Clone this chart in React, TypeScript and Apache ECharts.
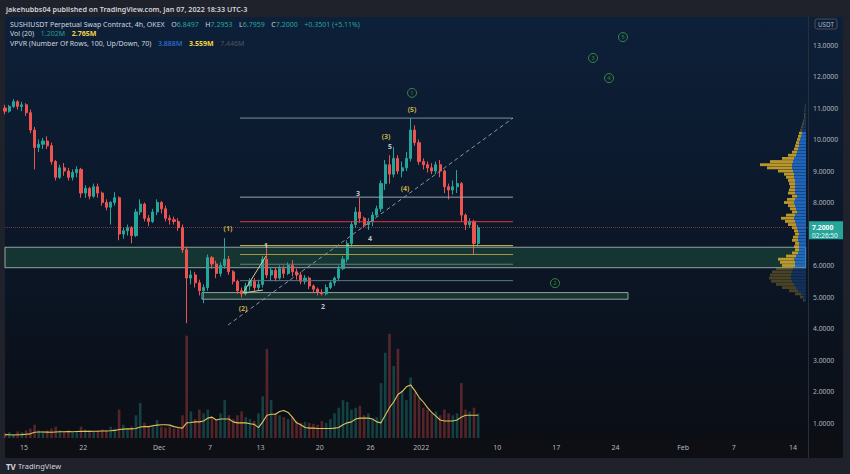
import React, { useEffect, useRef } from 'react';
import * as echarts from 'echarts';

const FONT = "'Noto Sans', 'Open Sans', sans-serif";

// Time is measured in days, day 0 = Nov 1, 2021. Candles are 12h.
const candleStartDay = 11.75;
const candleStepDays = 0.5;

// [open, close, low, high]
const ohlc: number[][] = [
  [11.0, 10.9, 10.8, 11.1], [10.9, 11.05, 10.85, 11.1], [11.05, 11.2, 11.0, 11.28], [11.2, 11.05, 10.95, 11.25],
  [11.05, 11.1, 10.9, 11.2], [11.1, 10.85, 10.75, 11.15], [10.85, 10.3, 10.2, 10.95], [10.3, 9.75, 9.05, 10.4],
  [9.75, 9.85, 9.6, 10.0], [9.85, 9.95, 9.7, 10.05], [9.95, 9.8, 9.7, 10.1], [9.8, 9.3, 9.2, 9.9],
  [9.3, 8.8, 8.7, 9.35], [8.8, 9.1, 8.75, 9.2], [9.1, 9.0, 8.85, 9.25], [9.0, 8.8, 8.7, 9.1],
  [8.8, 8.95, 8.7, 9.05], [8.95, 9.05, 8.8, 9.15], [9.05, 8.3, 8.15, 9.1], [8.3, 8.45, 8.15, 8.55],
  [8.45, 8.2, 8.1, 8.5], [8.2, 8.5, 8.15, 8.6], [8.5, 8.3, 8.15, 8.6], [8.3, 8.0, 7.9, 8.35],
  [8.0, 7.85, 7.75, 8.1], [7.85, 8.0, 7.3, 8.05], [8.0, 8.15, 7.9, 8.33], [8.15, 7.0, 6.8, 8.2],
  [7.0, 7.1, 6.85, 7.2], [7.1, 7.2, 6.95, 7.3], [7.2, 6.95, 6.7, 7.25], [6.95, 7.7, 6.9, 7.8],
  [7.7, 7.95, 7.6, 8.1], [7.95, 7.5, 7.4, 8.0], [7.5, 7.4, 7.25, 7.6], [7.4, 7.7, 7.35, 7.8],
  [7.7, 8.0, 7.6, 8.1], [8.0, 7.8, 7.65, 8.05], [7.8, 7.5, 7.4, 7.9], [7.5, 7.45, 7.3, 7.6],
  [7.45, 7.4, 7.3, 7.55], [7.4, 7.2, 7.1, 7.5], [7.2, 6.5, 6.4, 7.3], [6.5, 5.6, 4.17, 6.6],
  [5.6, 5.7, 5.4, 5.85], [5.7, 5.45, 5.3, 5.8], [5.45, 5.2, 5.05, 5.55], [5.2, 5.3, 4.8, 5.4],
  [5.3, 6.25, 5.2, 6.35], [6.25, 6.05, 5.9, 6.3], [6.05, 5.75, 5.6, 6.15], [5.75, 6.0, 5.65, 6.1],
  [6.0, 6.2, 5.9, 6.87], [6.2, 5.8, 5.7, 6.3], [5.8, 5.5, 5.4, 5.85], [5.5, 5.2, 5.1, 5.55],
  [5.2, 5.1, 4.98, 5.3], [5.1, 5.35, 5.05, 5.45], [5.35, 5.5, 5.2, 5.6], [5.5, 5.3, 5.2, 5.6],
  [5.3, 5.4, 5.2, 5.55], [5.4, 6.2, 5.3, 6.3], [6.2, 5.7, 5.6, 6.55], [5.7, 5.85, 5.5, 5.95],
  [5.85, 5.6, 5.5, 5.95], [5.6, 5.9, 5.55, 6.0], [5.9, 5.75, 5.6, 6.0], [5.75, 6.0, 5.7, 6.1],
  [6.0, 5.8, 5.65, 6.17], [5.8, 5.7, 5.55, 5.9], [5.7, 5.5, 5.4, 5.8], [5.5, 5.6, 5.4, 5.7],
  [5.6, 5.35, 5.25, 5.65], [5.35, 5.25, 5.15, 5.4], [5.25, 5.15, 5.05, 5.3], [5.15, 5.1, 5.05, 5.25],
  [5.1, 5.3, 5.05, 5.4], [5.3, 5.45, 5.25, 5.5], [5.45, 5.6, 5.35, 5.65], [5.6, 5.9, 5.5, 6.0],
  [5.9, 6.2, 5.85, 6.3], [6.2, 6.7, 6.1, 6.8], [6.7, 7.3, 6.6, 7.4], [7.3, 7.7, 7.2, 7.85],
  [7.7, 7.5, 7.35, 8.14], [7.5, 7.3, 7.2, 7.55], [7.3, 7.4, 7.13, 7.5], [7.4, 7.6, 7.25, 7.7],
  [7.6, 7.8, 7.55, 7.9], [7.8, 8.6, 7.7, 8.7], [8.6, 9.2, 8.4, 9.35], [9.2, 8.9, 8.6, 9.5],
  [8.9, 9.4, 8.8, 9.76], [9.4, 9.0, 8.9, 9.5], [9.0, 9.1, 8.8, 9.3], [9.1, 9.4, 9.0, 9.6],
  [9.4, 10.3, 9.3, 10.68], [10.3, 9.9, 9.8, 10.45], [9.9, 9.3, 9.2, 10.0], [9.3, 9.2, 9.05, 9.4],
  [9.2, 9.1, 8.95, 9.3], [9.1, 9.0, 8.9, 9.25], [9.0, 9.2, 8.9, 9.3], [9.2, 9.0, 8.8, 9.35],
  [9.0, 8.5, 8.3, 9.05], [8.5, 8.4, 8.1, 8.6], [8.4, 8.5, 8.25, 8.7], [8.5, 8.6, 8.3, 9.03],
  [8.6, 7.6, 7.4, 8.65], [7.6, 7.3, 7.13, 7.65], [7.3, 7.4, 7.2, 7.5], [7.4, 6.7, 6.33, 7.45],
  [6.7, 7.2, 6.6, 7.29],
];

// volume (M)
const volumes = [
  0.25, 0.3, 0.2, 0.35, 0.3, 0.4, 0.5, 0.7, 0.4, 0.35, 0.4, 0.5,
  0.6, 0.4, 0.35, 0.4, 0.3, 0.35, 0.6, 0.45, 0.4, 0.35, 0.4, 0.45,
  0.4, 0.6, 0.5, 1.5, 0.7, 0.5, 0.6, 1.2, 1.85, 0.8, 0.6, 0.7,
  0.95, 0.6, 0.55, 0.6, 0.5, 0.6, 1.2, 5.4, 1.4, 1.0, 1.5, 1.3,
  1.5, 1.1, 1.0, 1.3, 2.0, 1.2, 1.0, 1.2, 1.4, 1.1, 1.0, 0.9,
  1.3, 2.2, 4.7, 2.0, 1.3, 1.2, 1.1, 1.0, 1.1, 0.9, 0.8, 0.85,
  0.8, 0.75, 0.7, 0.9, 0.8, 1.0, 1.3, 1.6, 2.0, 1.9, 1.5, 1.6,
  1.7, 1.2, 1.3, 1.0, 1.1, 2.9, 4.5, 5.5, 3.8, 4.7, 2.5, 2.0,
  3.2, 2.4, 2.1, 1.6, 1.5, 1.3, 1.4, 1.2, 1.5, 1.3, 1.2, 1.3,
  2.9, 1.5, 1.4, 1.6, 1.3,
];

// Vol MA(20)
const volumeMA = [
  0.18, 0.17, 0.16, 0.17, 0.18, 0.2, 0.22, 0.3, 0.32, 0.32,
  0.31, 0.3, 0.32, 0.33, 0.33, 0.34, 0.33, 0.34, 0.35, 0.36,
  0.35, 0.36, 0.36, 0.37, 0.37, 0.38, 0.4, 0.45, 0.47, 0.48,
  0.48, 0.5, 0.58, 0.6, 0.6, 0.65, 0.68, 0.7, 0.7, 0.68,
  0.6, 0.55, 0.52, 0.8, 0.82, 0.85, 0.85, 0.9, 1.05, 1.1,
  0.95, 1.0, 1.0, 1.0, 0.85, 0.8, 0.8, 0.8, 0.75, 0.72,
  0.55, 0.85, 1.2, 1.25, 1.25, 1.4, 1.45, 1.35, 1.1, 0.8,
  0.7, 0.55, 0.52, 0.52, 0.5, 0.5, 0.5, 0.5, 0.52, 0.55,
  0.7, 0.8, 0.85, 1.0, 1.05, 1.05, 1.05, 1.0, 0.85, 0.8,
  1.2, 1.6, 1.9, 2.3, 2.45, 2.7, 2.8, 2.5, 2.15, 1.9,
  1.6, 1.35, 1.15, 0.95, 0.9, 0.9, 0.9, 0.95, 1.1, 1.2,
  1.2, 1.2, 1.2,
];

const tickDays = [14, 21, 30, 36, 42, 49, 55, 61, 70, 77, 84, 92, 98, 105];
const tickLabels = ['15', '22', 'Dec', '7', '13', '20', '26', '2022', '10', '17', '24', 'Feb', '7', '14'];
// 7.0000 is covered by the last-price tag in the reference
const priceTicks = [1, 2, 3, 4, 5, 6, 8, 9, 10, 11, 12, 13];

// Volume profile (VPVR) rows
const profileRowPrices = [
  4.9, 5.0, 5.1, 5.2, 5.3, 5.4, 5.5, 5.6, 5.7, 5.8,
  5.9, 6.0, 6.1, 6.2, 6.3, 6.4, 6.5, 6.6, 6.7, 6.8,
  6.9, 7.0, 7.1, 7.2, 7.3, 7.4, 7.5, 7.6, 7.7, 7.8,
  7.9, 8.0, 8.1, 8.2, 8.3, 8.4, 8.5, 8.6, 8.7, 8.8,
  8.9, 9.0, 9.1, 9.2, 9.3, 9.4, 9.5, 9.6, 9.7, 9.8,
  9.9, 10.0, 10.1, 10.2, 10.3, 10.4, 10.5, 10.6, 10.7, 10.8,
  10.9, 11.0, 11.1,
];
const profileUp = [
  1.5, 3, 5, 8, 10, 12, 14, 15, 15, 14,
  13, 11, 11, 12, 10, 8, 7, 7, 7, 8,
  8, 7, 8, 9, 10, 11, 12, 11, 9, 10,
  11, 12, 11, 9, 11, 11, 11, 11, 11, 12,
  12, 13, 14, 14, 13, 12, 10, 9, 8, 7,
  7, 6, 5, 4, 4, 3, 2, 2, 1, 1,
  1, 1, 0.5,
];
const profileDown = [
  1.5, 3, 6, 9, 14, 18, 21, 22, 21, 20,
  17, 13, 15, 16, 10, 6, 4, 5, 4, 6,
  5, 4, 4, 5, 8, 10, 13, 9, 5, 6,
  7, 10, 8, 5, 7, 6, 5, 6, 7, 8,
  10, 15, 25, 32, 23, 12, 8, 5, 4, 4,
  3, 3, 3, 3, 2, 2, 2, 1, 1, 1,
  0.5, 0.5, 0.5,
];
const profileHalfRow = 0.045;
const valueAreaLow = 5.95;
const valueAreaHigh = 10.25;

// Drawings
const fibLevels = [10.68, 8.17, 7.39, 6.63, 6.35, 6.04, 5.52];
const fibColors = ['#7d8da1', '#9ba4ae', '#e0383b', '#d4c94e', '#a89a42', '#6b7b88', '#5b768b'];
const fibDays = [39.56, 71.87];
const zonePrices = [6.58, 5.93];
const zoneDays = [11.75, 106.5];
const boxPrices = [5.14, 4.93];
const boxDays = [35.06, 85.48];
const trendLine = [[38.14, 4.11], [71.87, 10.68]];
const waveOneLines = [
  [[39.92, 5.13], [42.64, 6.3]],
  [[39.92, 5.13], [42.28, 5.22]],
];
const lastClose = 7.2;

const yellowLabels = [
  { name: '(1)', value: [38.14, 7.19] },
  { name: '(2)', value: [39.92, 4.65] },
  { name: '(3)', value: [56.84, 10.11] },
  { name: '(4)', value: [59.09, 8.46] },
  { name: '(5)', value: [59.92, 10.94] },
];
const whiteLabels = [
  { name: '1', value: [42.64, 6.62] },
  { name: '2', value: [49.38, 4.71] },
  { name: '3', value: [53.52, 8.27] },
  { name: '4', value: [54.95, 6.87] },
  { name: '5', value: [57.31, 9.79] },
];
const circledLabels = [
  { name: '1', value: [59.92, 11.48] },
  { name: '2', value: [76.84, 5.44] },
  { name: '3', value: [81.34, 12.59] },
  { name: '4', value: [83.23, 11.95] },
  { name: '5', value: [84.88, 13.25] },
];

const X_MIN = 11.75;
const X_MAX = 106.78;
const Y_MIN = 0.524;
const Y_MAX = 13.889;

const UP = '#26a69a';
const DOWN = '#ef5350';

export default function App() {
  const ref = useRef<HTMLDivElement>(null);

  useEffect(() => {
    if (!ref.current) return;
    const chart = echarts.init(ref.current, null, { renderer: 'svg' });

    const candleData = ohlc.map((r, i) => [candleStartDay + i * candleStepDays, r[0], r[1], r[2], r[3]]);
    const volData = volumes.map((v, i) => ({
      value: [candleStartDay + i * candleStepDays, v],
      itemStyle: { color: ohlc[i][1] >= ohlc[i][0] ? 'rgba(38,166,154,0.33)' : 'rgba(239,83,80,0.33)' },
    }));
    const maData = volumeMA.map((v, i) => [candleStartDay + i * candleStepDays, v]);
    const profileData = profileRowPrices.map((p, i) => [
      profileUp[i],
      profileDown[i],
      p,
      p < valueAreaLow || p > valueAreaHigh ? 1 : 0,
    ]);

    const drawLine = (pts: number[][], lineStyle: any) => ({
      type: 'line', xAxisIndex: 0, yAxisIndex: 0, data: pts, symbol: 'none', silent: true, z: 4,
      lineStyle, emphasis: { disabled: true }, tooltip: { show: false },
    });

    const fibSeries = fibLevels.map((lv, i) =>
      drawLine([[fibDays[0], lv], [fibDays[1], lv]], { color: fibColors[i], width: 1, type: 'solid' })
    );

    const option: any = {
      animation: false,
      backgroundColor: '#1f222b',
      textStyle: { fontFamily: FONT },
      grid: [
        { left: 5, right: 42, top: 17, bottom: 36, containLabel: false, outerBoundsMode: 'none' },
        { left: 5, right: 42, top: 330, bottom: 36, containLabel: false, outerBoundsMode: 'none' },
        { left: 706, right: 44, top: 17, bottom: 36, containLabel: false, outerBoundsMode: 'none' },
      ],
      xAxis: [
        {
          type: 'value', gridIndex: 0, min: X_MIN, max: X_MAX,
          axisLine: { show: false }, axisTick: { show: false }, splitLine: { show: false },
          axisLabel: {
            customValues: tickDays,
            formatter: (v: number) => {
              const k = tickDays.findIndex((d) => Math.abs(d - v) < 1e-6);
              return k >= 0 ? tickLabels[k] : '';
            },
            color: '#b2b5be', fontSize: 7, margin: 6, fontFamily: FONT,
          },
        },
        { type: 'value', gridIndex: 1, min: X_MIN, max: X_MAX, show: false },
        { type: 'value', gridIndex: 2, min: 0, max: 100, inverse: true, show: false },
      ],
      yAxis: [
        {
          type: 'value', gridIndex: 0, position: 'right', min: Y_MIN, max: Y_MAX,
          splitLine: { show: false }, axisTick: { show: false },
          axisLine: { show: true, lineStyle: { color: '#2a2e39' } },
          axisLabel: {
            customValues: priceTicks,
            formatter: (v: number) => v.toFixed(4),
            color: '#b2b5be', fontSize: 6.8, margin: 5, fontFamily: FONT,
          },
        },
        { type: 'value', gridIndex: 1, min: 0, max: 5.7, show: false },
        { type: 'value', gridIndex: 2, min: Y_MIN, max: Y_MAX, show: false },
      ],
      series: [
        {
          type: 'bar', xAxisIndex: 1, yAxisIndex: 1, barWidth: 2.6, data: volData, z: 1,
        },
        {
          type: 'line', xAxisIndex: 1, yAxisIndex: 1, data: maData, symbol: 'none', z: 3,
          lineStyle: { color: '#dcc35a', width: 1.1 },
        },
        {
          type: 'custom', xAxisIndex: 2, yAxisIndex: 2, data: profileData, z: 2,
          encode: { x: [0, 1], y: 2 },
          renderItem: (params: any, api: any) => {
            const up = api.value(0) as number;
            const dn = api.value(1) as number;
            const price = api.value(2) as number;
            const faded = api.value(3) as number;
            const top = api.coord([0, price + profileHalfRow])[1];
            const bot = api.coord([0, price - profileHalfRow])[1];
            const xR = api.coord([0, price])[0];
            const xU = api.coord([up, price])[0];
            const xD = api.coord([up + dn, price])[0];
            const op = faded ? 0.3 : 0.85;
            return {
              type: 'group',
              children: [
                { type: 'rect', shape: { x: xU, y: top, width: xR - xU, height: bot - top }, style: { fill: '#2573d6', opacity: op } },
                { type: 'rect', shape: { x: xD, y: top, width: xU - xD, height: bot - top }, style: { fill: '#d9ad2c', opacity: op } },
              ],
            };
          },
        },
        {
          type: 'candlestick', xAxisIndex: 0, yAxisIndex: 0, data: candleData, barWidth: 2.6,
          encode: { x: 0, y: [1, 2, 3, 4] },
          itemStyle: { color: UP, color0: DOWN, borderColor: UP, borderColor0: DOWN, borderWidth: 1 },
          markArea: {
            silent: true,
            itemStyle: { color: 'rgba(46,125,80,0.3)', borderColor: 'rgba(190,205,200,0.75)', borderWidth: 1 },
            data: [
              [{ coord: [zoneDays[0], zonePrices[0]] }, { coord: [zoneDays[1], zonePrices[1]] }],
              [{ coord: [boxDays[0], boxPrices[0]] }, { coord: [boxDays[1], boxPrices[1]] }],
            ],
          },
          markLine: {
            silent: true, symbol: ['none', 'none'], label: { show: false },
            emphasis: { disabled: true },
            lineStyle: { color: 'rgba(239,83,80,0.5)', type: 'dotted', width: 1 },
            data: [{ yAxis: lastClose }],
          },
        },
        ...fibSeries,
        drawLine(trendLine, { color: '#8b95a1', type: [4, 3], width: 1 }),
        ...waveOneLines.map((s) => drawLine(s, { color: '#d6cf8e', type: 'solid', width: 1 })),
        {
          type: 'scatter', xAxisIndex: 0, yAxisIndex: 0, data: yellowLabels, symbolSize: 0, z: 10, silent: true,
          label: { show: true, position: 'inside', formatter: '{b}', color: '#f0d34a', fontSize: 7, fontWeight: 'bold', fontFamily: FONT },
        },
        {
          type: 'scatter', xAxisIndex: 0, yAxisIndex: 0, data: whiteLabels, symbolSize: 0, z: 10, silent: true,
          label: { show: true, position: 'inside', formatter: '{b}', color: '#eceff2', fontSize: 7, fontWeight: 'bold', fontFamily: FONT },
        },
        {
          type: 'scatter', xAxisIndex: 0, yAxisIndex: 0, data: circledLabels, symbol: 'circle', symbolSize: 9, z: 10, silent: true,
          itemStyle: { color: 'rgba(0,0,0,0)', borderColor: '#43a047', borderWidth: 1 },
          label: { show: true, position: 'inside', formatter: '{b}', color: '#43a047', fontSize: 6, fontFamily: FONT },
        },
      ],
    };

    chart.setOption(option);

    const yTag = chart.convertToPixel({ yAxisIndex: 0 }, lastClose) as number;

    const legendRich = {
      t: { fill: '#d1d4dc', fontSize: 7, fontFamily: FONT },
      v: { fill: '#26a69a', fontSize: 7, fontFamily: FONT },
      g: { fill: '#2a9d8f', fontSize: 7, fontFamily: FONT },
      y: { fill: '#f5d442', fontSize: 7, fontFamily: FONT, fontWeight: 'bold' },
      b: { fill: '#2f7fe6', fontSize: 7, fontFamily: FONT },
      d: { fill: '#50535e', fontSize: 7, fontFamily: FONT },
    };

    chart.setOption({
      graphic: {
        elements: [
          {
            type: 'rect', z: -100, silent: true,
            shape: { x: 5, y: 17, width: 838, height: 441 },
            style: {
              fill: new echarts.graphic.LinearGradient(0, 0, 0, 1, [
                { offset: 0, color: '#0d2039' },
                { offset: 0.55, color: '#0b1626' },
                { offset: 1, color: '#0b0d13' },
              ]),
            },
          },
          { type: 'rect', z: -99, silent: true, shape: { x: 5, y: 438, width: 838, height: 20 }, style: { fill: '#0d0f15' } },
          { type: 'line', z: -98, silent: true, shape: { x1: 808.5, y1: 438, x2: 808.5, y2: 458 }, style: { stroke: '#2a2e39', lineWidth: 1 } },
          {
            type: 'text', x: 6, y: 9, silent: true,
            style: { text: 'jakehubbs04 published on TradingView.com, Jan 07, 2022 18:33 UTC-3', fill: '#d1d4dc', fontSize: 7.2, fontWeight: 600, fontFamily: FONT, verticalAlign: 'middle' },
          },
          {
            type: 'text', x: 10, y: 24, silent: true,
            style: {
              text: '{t|SUSHIUSDT Perpetual Swap Contract, 4h, OKEX}  {t|O}{v|6.8497}  {t|H}{v|7.2953}  {t|L}{v|6.7959}  {t|C}{v|7.2000}  {v|+0.3501 (+5.11%)}',
              rich: legendRich, verticalAlign: 'middle',
            },
          },
          {
            type: 'text', x: 10, y: 33.5, silent: true,
            style: { text: '{t|Vol (20)}  {g|1.202M}  {y|2.765M}', rich: legendRich, verticalAlign: 'middle' },
          },
          {
            type: 'text', x: 10, y: 43, silent: true,
            style: { text: '{t|VPVR (Number Of Rows, 100, Up/Down, 70)}  {b|3.888M}  {y|3.559M}  {d|7.446M}', rich: legendRich, verticalAlign: 'middle' },
          },
          {
            type: 'rect', silent: true, shape: { x: 815, y: 19, width: 22, height: 10, r: 2 },
            style: { fill: 'rgba(0,0,0,0)', stroke: '#4a4e59', lineWidth: 1 },
          },
          {
            type: 'text', x: 826, y: 24, silent: true,
            style: { text: 'USDT', fill: '#b2b5be', fontSize: 6.3, fontFamily: FONT, align: 'center', verticalAlign: 'middle' },
          },
          {
            type: 'rect', silent: true, shape: { x: 808, y: yTag - 6.5, width: 35, height: 18 },
            style: { fill: '#26a69a' },
          },
          {
            type: 'text', x: 812, y: yTag, silent: true,
            style: { text: '7.2000', fill: '#ffffff', fontSize: 6.8, fontWeight: 'bold', fontFamily: FONT, verticalAlign: 'middle' },
          },
          {
            type: 'text', x: 812, y: yTag + 7.5, silent: true,
            style: { text: '02:26:50', fill: '#e8f5f3', fontSize: 6.5, fontFamily: FONT, verticalAlign: 'middle' },
          },
          {
            type: 'text', x: 6, y: 466, silent: true,
            style: { text: 'TV', fill: '#d1d4dc', fontSize: 8, fontWeight: 'bold', fontFamily: FONT, verticalAlign: 'middle' },
          },
          {
            type: 'text', x: 18, y: 466, silent: true,
            style: { text: 'TradingView', fill: '#d1d4dc', fontSize: 7.5, fontFamily: FONT, verticalAlign: 'middle' },
          },
        ],
      },
    });

    return () => {
      chart.dispose();
    };
  }, []);

  return (
    <div
      ref={ref}
      style={{ position: 'fixed', left: 0, top: 0, width: 850, height: 474 }}
    />
  );
}
